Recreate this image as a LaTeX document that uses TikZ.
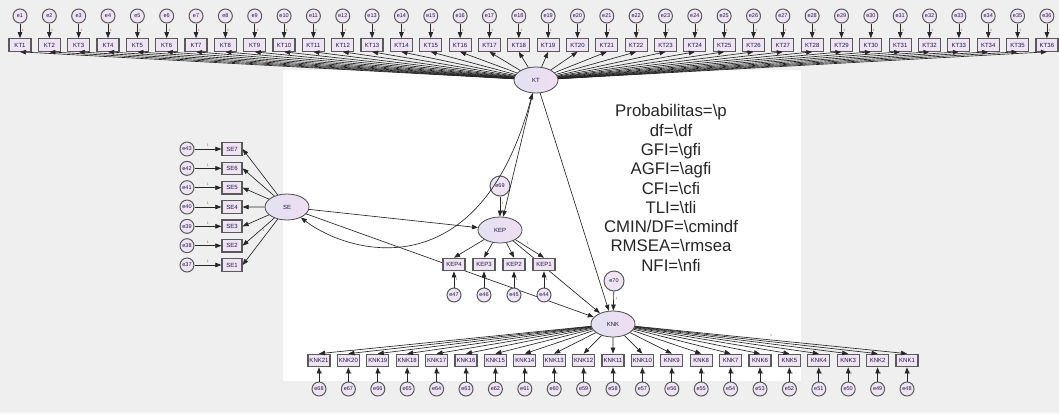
\documentclass[tikz,border=0pt]{standalone}
\usepackage{fontspec}
\setmainfont{Liberation Sans}
\usetikzlibrary{arrows.meta,shapes.geometric}
\definecolor{bggray}{HTML}{EFEFEF}
\definecolor{nodefill}{HTML}{EEE4F4}
\definecolor{boxborder}{HTML}{5A5A5A}
\definecolor{txt}{HTML}{1A1A40}
\definecolor{onecol}{HTML}{8A6040}
\definecolor{latL}{HTML}{E2E2F2}
\definecolor{latR}{HTML}{F0DDF2}
\tikzset{
  obs/.style={draw=boxborder, line width=1.2pt, fill=nodefill, minimum width=22pt, minimum height=12.5pt, inner sep=0pt, font=\fontsize{6}{6}\selectfont, text=txt},
  err/.style={circle, draw=boxborder, line width=1pt, fill=nodefill, minimum size=14pt, inner sep=0pt, font=\fontsize{5.5}{6}\selectfont, text=txt},
  dist/.style={err, minimum size=20pt},
  lat/.style={ellipse, draw=black!70, line width=0.8pt, left color=latL, right color=latR, minimum width=44pt, minimum height=26pt, inner sep=0pt, font=\fontsize{6}{6}\selectfont, text=txt},
  arr/.style={draw=black!85, line width=0.65pt, -{Triangle[length=6pt,width=4.5pt]}},
  cov/.style={draw=black!85, line width=0.65pt, {Triangle[length=6pt,width=4.5pt]}-{Triangle[length=6pt,width=4.5pt]}},
  one/.style={font=\fontsize{3.5}{4}\selectfont, text=onecol, inner sep=0pt},
  fitlbl/.style={font=\fontsize{16.8}{19.3}\selectfont, align=center, text=black!85},
}
\begin{document}
\begin{tikzpicture}[x=1pt,y=-1pt]
\useasboundingbox (0,0) rectangle (1059,413);
\fill[bggray] (0,0) rectangle (1059,413);
\fill[white] (283,70) rectangle (801,381);

% latent variables
\node[lat] (kt) at (536,80) {KT};
\node[lat] (se) at (287,207) {SE};
\node[lat] (kep) at (500,230) {KEP};
\node[lat] (knk) at (613,324) {KNK};

% disturbances
\node[dist] (e69) at (500,186) {e69};
\node[dist] (e70) at (614,281) {e70};

% structural paths
\draw[arr] (e69) -- (kep) node[one, pos=0.35, right=1.5pt] {1};
\draw[arr] (e70) -- (knk) node[one, pos=0.35, right=1.5pt] {1};
\draw[arr] (kt) -- (kep);
\draw[arr] (kt) -- (knk);
\draw[arr] (kep) -- (knk);
\draw[arr] (se) -- (kep);
\draw[arr] (se) -- (knk);
\draw[cov] (se) .. controls (350,255) and (480,290) .. (kt);

% KT indicators
\foreach \i in {1,...,36}{
  \node[obs] (kt\i) at ({20+(\i-1)*29.34},45) {KT\i};
  \node[err] (e\i) at ({20+(\i-1)*29.34},16) {e\i};
  \draw[arr] (e\i) -- (kt\i) node[one, pos=0.45, right=1.5pt] {1};
}
\foreach \i in {2,...,36}{
  \draw[arr] (kt) -- (kt\i.south);
}
\draw[arr] (kt) -- (kt1.south) node[one, pos=0.5, above=2pt] {1};

% SE indicators
\foreach \k in {1,...,7}{
  \pgfmathtruncatemacro{\n}{36+\k}
  \node[obs, minimum width=20pt] (se\k) at (232,{265-(\k-1)*19.33}) {SE\k};
  \node[err] (e\n) at (187,{265-(\k-1)*19.33}) {e\n};
  \draw[arr] (e\n) -- (se\k) node[one, midway, above=2pt] {1};
}
\foreach \k in {1,3,4,5,6,7}{
  \draw[arr] (se) -- (se\k.east);
}
\draw[arr] (se) -- (se2.east) node[one, pos=0.45, right=2pt] {1};

% KEP indicators
\foreach \k in {1,...,4}{
  \pgfmathtruncatemacro{\n}{43+\k}
  \node[obs] (kep\k) at ({544-(\k-1)*30},264.5) {KEP\k};
  \node[err] (e\n) at ({544-(\k-1)*30},295) {e\n};
  \draw[arr] (e\n) -- (kep\k.south) node[one, pos=0.5, right=1.5pt] {1};
}
\foreach \k in {2,3,4}{
  \draw[arr] (kep) -- (kep\k.north);
}
\draw[arr] (kep) -- (kep1.north) node[one, pos=0.35, above right=1pt] {1};

% KNK indicators
\foreach \k in {1,...,21}{
  \pgfmathtruncatemacro{\n}{47+\k}
  \node[obs] (knk\k) at ({907-(\k-1)*29.4},360.5) {KNK\k};
  \node[err] (e\n) at ({907-(\k-1)*29.4},389) {e\n};
  \draw[arr] (e\n) -- (knk\k.south) node[one, pos=0.6, right=1.5pt] {1};
}
\foreach \k in {2,...,21}{
  \draw[arr] (knk) -- (knk\k.north);
}
\draw[arr] (knk) -- (knk1.north) node[one, pos=0.5, above=3pt] {1};

% fit indices
\node[fitlbl] (fit) at (671,188) {Probabilitas=\textbackslash p\\ df=\textbackslash df\\ GFI=\textbackslash gfi\\ AGFI=\textbackslash agfi\\ CFI=\textbackslash cfi\\ TLI=\textbackslash tli\\ CMIN/DF=\textbackslash cmindf\\ RMSEA=\textbackslash rmsea\\ NFI=\textbackslash nfi};
\end{tikzpicture}
\end{document}
